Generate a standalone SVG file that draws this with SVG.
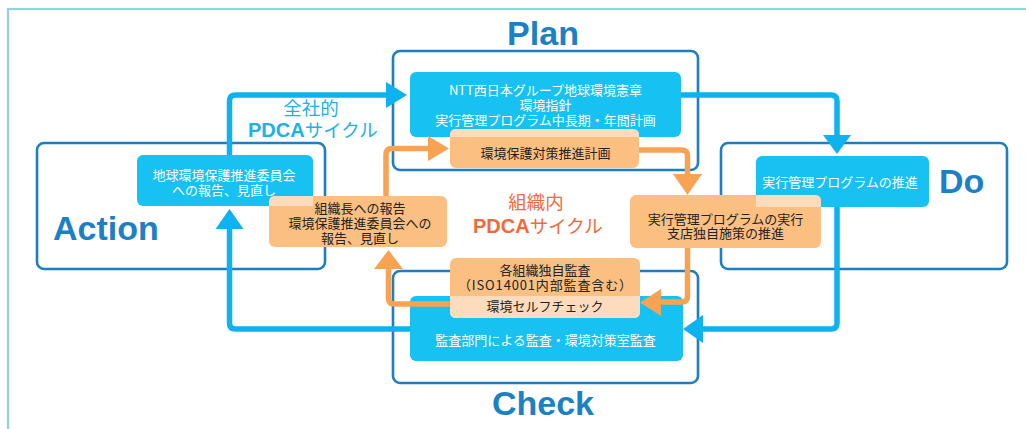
<svg xmlns="http://www.w3.org/2000/svg" width="1026" height="429" viewBox="0 0 1026 429">
<defs>
<style>
.frame{fill:none;stroke:#8fd5d5;stroke-width:2.2}
.outline{fill:none;stroke:#1f7ec2;stroke-width:2.6}
.cyan{fill:#17c1f1}
.org{fill:#fbbf82}
.lt{fill:#fddcbd}
.bl{fill:none;stroke:#0db2ee;stroke-width:5.5}
.bla{fill:#0db2ee}
.ol{fill:none;stroke:#f7a353;stroke-width:5.5}
.ola{fill:#f7a353}
.jw{font-family:"Noto Sans CJK JP","Noto Sans",sans-serif;font-size:13px;fill:#ffffff;text-anchor:middle}
.jb{font-family:"Noto Sans CJK JP","Noto Sans",sans-serif;font-size:13px;fill:#222222;text-anchor:middle}
.big{font-family:"Liberation Sans",Arial,sans-serif;font-weight:bold;font-size:34px;fill:#1b80c4}
.cyc{font-family:"Noto Sans CJK JP",sans-serif;font-size:18.5px}
.pd{font-family:"Liberation Sans",Arial,sans-serif;font-weight:bold;font-size:20px}
</style>
</defs>
<rect class="frame" x="8" y="9" width="1040" height="440"/>

<g id="plan-frame"><rect class="outline" x="393" y="51" width="305" height="119" rx="7"/><text class="big" x="543" y="45" text-anchor="middle">Plan</text></g>
<g id="do-frame"><rect class="outline" x="721" y="143" width="286" height="126" rx="7"/><text class="big" x="939" y="193">Do</text></g>
<g id="action-frame"><rect class="outline" x="37" y="143" width="288" height="126" rx="7"/><text class="big" x="53" y="240">Action</text></g>
<g id="check-frame"><rect class="outline" x="393" y="271" width="305" height="112" rx="7"/><text class="big" x="543" y="415" text-anchor="middle">Check</text></g>

<g id="labels">
<text class="cyc" x="311" y="115" text-anchor="middle" fill="#1cb2e6">全社的</text>
<text class="cyc" x="248" y="137" fill="#1cb2e6"><tspan class="pd">PDCA</tspan>サイクル</text>
<text class="cyc" x="536" y="209" text-anchor="middle" fill="#f26a3a">組織内</text>
<text class="cyc" x="473" y="233" fill="#f26a3a"><tspan class="pd">PDCA</tspan>サイクル</text>
</g>

<g id="ntt-charter">
<rect class="cyan" x="410" y="72" width="271" height="65" rx="6"/>
<text class="jw" x="545.5" y="95">NTT西日本グループ地球環境憲章</text>
<text class="jw" x="545.5" y="109.5">環境指針</text>
<text class="jw" x="545.5" y="125">実行管理プログラム中長期・年間計画</text>
</g>
<g id="do-promote">
<rect class="cyan" x="756" y="156" width="173" height="51" rx="6"/>
<text class="jw" x="840" y="186.5">実行管理プログラムの推進</text>
</g>
<g id="action-report">
<rect class="cyan" x="137" y="155" width="176" height="51" rx="6"/>
<text class="jw" x="224" y="179.5">地球環境保護推進委員会</text>
<text class="jw" x="224" y="194.5">への報告、見直し</text>
</g>
<g id="check-audit">
<rect class="cyan" x="410" y="296" width="273" height="65" rx="6"/>
<text class="jw" x="545.5" y="344.5">監査部門による監査・環境対策室監査</text>
</g>

<g id="connectors">
<path class="bl" d="M229.5,155 V101 Q229.5,95 235.5,95 H388"/>
<polygon class="bla" points="386,82 407,95 386,108"/>
<path class="bl" d="M681,95 H831 Q837,95 837,101 V136"/>
<polygon class="bla" points="823,135 851,135 837,154"/>
<path class="bl" d="M837,207 V323 Q837,329 831,329 H701"/>
<polygon class="bla" points="703,315 703,343 683,329"/>
<path class="bl" d="M410,329 H235.5 Q229.5,329 229.5,323 V228"/>
<polygon class="bla" points="215.5,229 243.5,229 229.5,209"/>

<path class="ol" d="M386,196 V154.5 Q386,148.5 392,148.5 H430"/>
<polygon class="ola" points="428,136 449,148.5 428,161"/>
<path class="ol" d="M639,150 H681.5 Q687.5,150 687.5,156 V175"/>
<polygon class="ola" points="673,174 702,174 687.5,195"/>
<path class="ol" d="M687.5,248 V296 Q687.5,302 681.5,302 H659"/>
<polygon class="ola" points="661,289 661,316 640,302.5"/>
<path class="ol" d="M450,304 H394.5 Q388.5,304 388.5,298 V268"/>
<polygon class="ola" points="374,269 403,269 388.5,250"/>
</g>

<g id="plan-org">
<rect class="org" x="450" y="129" width="189" height="39" rx="6"/>
<path class="lt" d="M450,137 V135 Q450,129 456,129 H633 Q639,129 639,135 V137 Z"/>
<text class="jb" x="545.5" y="158">環境保護対策推進計画</text>
</g>
<g id="do-org">
<rect class="org" x="630" y="195" width="191" height="53" rx="6"/>
<path class="lt" d="M756,207 V195 H815 Q821,195 821,201 V207 Z"/>
<text class="jb" x="725.5" y="223.5">実行管理プログラムの実行</text>
<text class="jb" x="725.5" y="238">支店独自施策の推進</text>
</g>
<g id="action-org">
<rect class="org" x="269" y="196" width="178" height="51" rx="6"/>
<path class="lt" d="M269,206 V202 Q269,196 275,196 H313 V206 Z"/>
<text class="jb" x="360" y="212.5">組織長への報告</text>
<text class="jb" x="360" y="227.5">環境保護推進委員会への</text>
<text class="jb" x="360" y="242.5">報告、見直し</text>
</g>
<g id="check-org">
<rect class="org" x="450" y="258" width="190" height="60" rx="6"/>
<path class="lt" d="M450,296 H640 V312 Q640,318 634,318 H456 Q450,318 450,312 Z"/>
<text class="jb" x="545" y="275">各組織独自監査</text>
<text class="jb" x="545" y="290" textLength="174" lengthAdjust="spacing">（ISO14001内部監査含む）</text>
<text class="jb" x="545" y="311">環境セルフチェック</text>
</g>
</svg>
